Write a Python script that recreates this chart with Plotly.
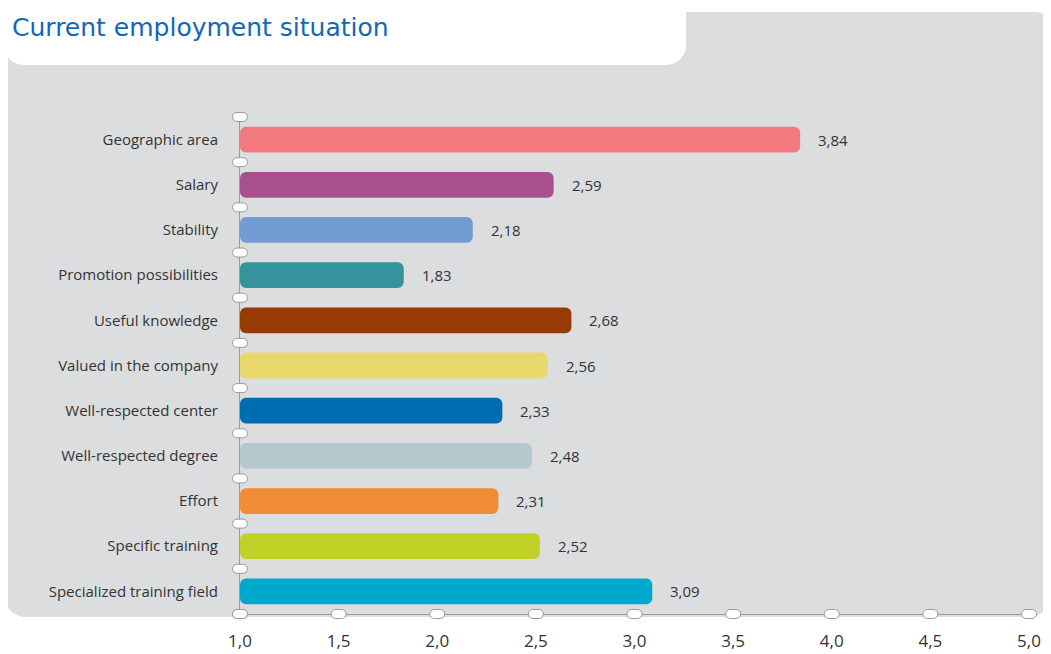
import plotly.graph_objects as go

categories = ["Geographic area", "Salary", "Stability", "Promotion possibilities",
              "Useful knowledge", "Valued in the company", "Well-respected center",
              "Well-respected degree", "Effort", "Specific training",
              "Specialized training field"]
values = [3.84, 2.59, 2.18, 1.83, 2.68, 2.56, 2.33, 2.48, 2.31, 2.52, 3.09]
colors = ["#f27a7f", "#a84f8e", "#739dd2", "#35949b", "#973b03", "#e8d76a",
          "#006db3", "#b3c9ce", "#f08c34", "#c1d026", "#00a8cc"]
x_ticks = [1.0, 1.5, 2.0, 2.5, 3.0, 3.5, 4.0, 4.5, 5.0]
x_ticktext = ["1,0", "1,5", "2,0", "2,5", "3,0", "3,5", "4,0", "4,5", "5,0"]
axis_min, axis_max = 1.0, 5.0
title_text = "Current employment situation"

# page is offset by the default 8px body margin; work in page pixels and shift
OFF = 8
W, H = 1051 - OFF, 654 - OFF
L = 240 - OFF
T = 117 - OFF
R = W - (1029 - OFF)
B = H - (614 - OFF)
PW, PH = W - L - R, H - T - B
FONT = "Open Sans, Liberation Sans, sans-serif"

def px(xp):
    return (xp - OFF - L) / PW

def py(yp):
    return (H - B - (yp - OFF)) / PH

def rounded_rect(x0, y0, x1, y1, r_tl, r_tr, r_br, r_bl):
    k = 0.5523
    def P(x, y):
        return f"{px(x):.5f},{py(y):.5f}"
    s = f"M {P(x0 + r_tl, y0)} L {P(x1 - r_tr, y0)} "
    if r_tr:
        s += f"C {P(x1 - r_tr + k * r_tr, y0)} {P(x1, y0 + r_tr - k * r_tr)} {P(x1, y0 + r_tr)} "
    s += f"L {P(x1, y1 - r_br)} "
    if r_br:
        s += f"C {P(x1, y1 - r_br + k * r_br)} {P(x1 - r_br + k * r_br, y1)} {P(x1 - r_br, y1)} "
    s += f"L {P(x0 + r_bl, y1)} "
    if r_bl:
        s += f"C {P(x0 + r_bl - k * r_bl, y1)} {P(x0, y1 - r_bl + k * r_bl)} {P(x0, y1 - r_bl)} "
    s += f"L {P(x0, y0 + r_tl)} "
    if r_tl:
        s += f"C {P(x0, y0 + r_tl - k * r_tl)} {P(x0 + r_tl - k * r_tl, y0)} {P(x0 + r_tl, y0)} "
    s += "Z"
    return s

fig = go.Figure()
fig.add_trace(go.Bar(
    y=categories,
    x=[v - axis_min for v in values],
    base=axis_min,
    orientation="h",
    marker=dict(color=colors, cornerradius=6, line=dict(width=0)),
    width=0.57,
    customdata=values,
    hovertemplate="%{y}: %{customdata:.2f}<extra></extra>",
))

annotations = []
for c, v in zip(categories, values):
    annotations.append(dict(
        x=v, y=c, xref="x", yref="y", text=f"{v:.2f}".replace(".", ","),
        showarrow=False, xanchor="left", yanchor="middle", xshift=16,
        font=dict(family=FONT, size=15, color="#333333"),
    ))

shapes = []
shapes.append(dict(type="path", xref="paper", yref="paper", layer="below",
                   path=rounded_rect(4, 12, 1051, 617, 0, 16, 22, 22),
                   fillcolor="#dcdddf", line=dict(width=0)))
shapes.append(dict(type="path", xref="paper", yref="paper", layer="below",
                   path=rounded_rect(4, -2, 686, 65, 0, 0, 20, 20),
                   fillcolor="#ffffff", line=dict(width=0)))

def stadium():
    hw, r, k = 7.5, 4.5, 0.5523
    a = hw - r
    return (f"M {-a},{-r} L {a},{-r} "
            f"C {a + k * r},{-r} {a + r},{-k * r} {a + r},0 "
            f"C {a + r},{k * r} {a + k * r},{r} {a},{r} "
            f"L {-a},{r} "
            f"C {-a - k * r},{r} {-a - r},{k * r} {-a - r},0 "
            f"C {-a - r},{-k * r} {-a - k * r},{-r} {-a},{-r} Z")

oval_style = dict(type="path", xsizemode="pixel", ysizemode="pixel", layer="above",
                  xref="paper", yref="paper",
                  fillcolor="#ffffff", line=dict(color="#9a9a9a", width=1))
n = len(categories)
for xv in x_ticks:
    shapes.append(dict(oval_style, xanchor=(xv - axis_min) / (axis_max - axis_min),
                       yanchor=0, path=stadium()))
for i in range(n + 1):
    shapes.append(dict(oval_style, xanchor=0, yanchor=i / n, path=stadium()))

fig.update_layout(
    width=W, height=H,
    margin=dict(l=L, r=R, t=T, b=B, pad=0, autoexpand=False),
    paper_bgcolor="#ffffff",
    plot_bgcolor="rgba(0,0,0,0)",
    showlegend=False,
    shapes=shapes,
    annotations=annotations,
    title=dict(text=title_text, xref="container", yref="container",
               x=(12 - OFF) / W, xanchor="left", y=1 - (27 - OFF) / H, yanchor="middle",
               font=dict(family="DejaVu Sans", size=25, color="#1168b8")),
    xaxis=dict(range=[axis_min, axis_max], tickvals=x_ticks, ticktext=x_ticktext,
               automargin=False,
               showgrid=False, zeroline=False, showline=True, linecolor="#9a9a9a", linewidth=1,
               ticks="", ticklabelstandoff=12,
               tickfont=dict(family=FONT, size=17, color="#333333")),
    yaxis=dict(autorange="reversed", automargin=False, showgrid=False, zeroline=False, showline=True,
               linecolor="#9a9a9a", linewidth=1, ticks="", ticklabelstandoff=18,
               tickfont=dict(family=FONT, size=15, color="#333333")),
)

fig.write_html("out.html")
